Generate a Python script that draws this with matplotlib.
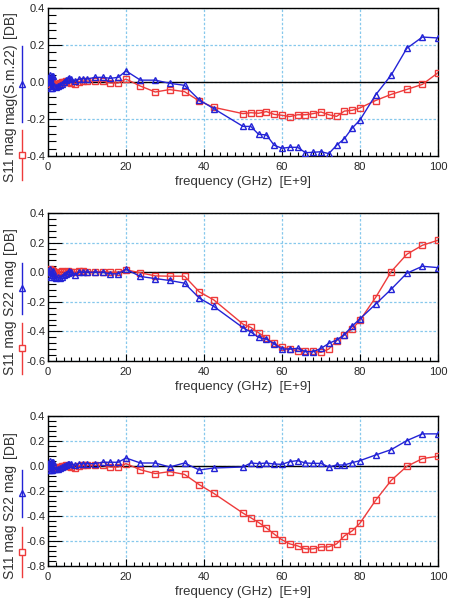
import numpy as np
import matplotlib
matplotlib.use("Agg")
import matplotlib.pyplot as plt
from matplotlib.lines import Line2D
from matplotlib.ticker import MultipleLocator, FormatStrFormatter

plt.rcParams['font.family'] = ['Liberation Sans', 'DejaVu Sans']
plt.rcParams['axes.unicode_minus'] = False

# frequency points (GHz)
freq = [0.1, 0.3, 0.5, 0.7, 0.9, 1.1, 1.3, 1.5, 2.0, 2.5, 3.0, 3.5, 4.0, 4.5, 5.0, 5.5,
        6, 7, 8, 9, 10, 12, 14, 16, 18, 20, 23.7, 27.5, 31.2, 35, 38.8, 42.5,
        50, 52, 54, 56, 58, 60, 62, 64, 66, 68, 70, 72, 74, 76, 78, 80, 84, 88, 92, 96, 100]

# panel 1: mag(S.m.22) and S11 mag
p1_blue = [0.02, -0.02, 0.04, -0.03, 0.03, -0.03, 0.035, -0.02, -0.025, -0.02, -0.015, -0.01, 0.0, 0.01, 0.015, 0.02,
           0.015, 0.005, 0.016, 0.018, 0.016, 0.025, 0.025, 0.02, 0.025, 0.06, 0.01, 0.01, -0.007, -0.018, -0.097, -0.144,
           -0.24, -0.24, -0.283, -0.286, -0.342, -0.358, -0.353, -0.353, -0.382, -0.38, -0.377, -0.387, -0.342, -0.306,
           -0.249, -0.205, -0.07, 0.038, 0.182, 0.243, 0.238]
p1_red = [0.0, 0.01, -0.01, 0.005, -0.005, 0.0, -0.01, -0.012, -0.015, -0.01, -0.005, 0.0, 0.0, 0.005, 0.0, 0.0,
          -0.003, -0.009, 0.0, 0.005, 0.005, 0.005, 0.005, -0.005, -0.005, 0.016, -0.022, -0.054, -0.041, -0.052, -0.103, -0.137,
          -0.171, -0.166, -0.169, -0.16, -0.175, -0.18, -0.187, -0.177, -0.177, -0.171, -0.162, -0.177, -0.186, -0.157,
          -0.153, -0.14, -0.1, -0.067, -0.04, -0.013, 0.05]

# panel 2: S22 mag and S11 mag
p2_blue = [0.01, -0.02, 0.02, -0.03, 0.0, -0.02, 0.01, -0.03, -0.04, -0.035, -0.04, -0.03, -0.02, -0.01, -0.005, 0.005,
           0.0, -0.018, 0.0, 0.0, 0.0, 0.0, 0.0, -0.011, -0.011, 0.02, -0.029, -0.043, -0.056, -0.074, -0.175, -0.231,
           -0.375, -0.404, -0.44, -0.452, -0.485, -0.519, -0.519, -0.515, -0.537, -0.537, -0.515, -0.481, -0.458, -0.422,
           -0.364, -0.315, -0.216, -0.115, -0.007, 0.04, 0.031]
p2_red = [0.0, 0.01, 0.02, 0.0, 0.015, 0.005, 0.01, 0.0, -0.005, -0.01, 0.0, 0.005, 0.0, 0.0, 0.005, 0.0,
          0.0, 0.0, 0.005, 0.009, 0.004, 0.004, 0.004, 0.0, 0.0, 0.016, -0.004, -0.025, -0.027, -0.027, -0.133, -0.187,
          -0.351, -0.373, -0.409, -0.447, -0.481, -0.508, -0.517, -0.533, -0.535, -0.533, -0.542, -0.519, -0.463, -0.425,
          -0.384, -0.324, -0.171, 0.004, 0.121, 0.182, 0.216]

# panel 3: S22 mag and S11 mag
p3_blue = [0.02, -0.03, 0.04, -0.03, 0.03, -0.03, 0.035, -0.02, -0.025, -0.02, -0.015, -0.01, 0.0, 0.01, 0.015, 0.02,
           0.015, 0.005, 0.02, 0.018, 0.019, 0.019, 0.03, 0.03, 0.03, 0.064, 0.024, 0.024, -0.008, 0.024, -0.032, -0.016,
           -0.008, 0.024, 0.019, 0.024, 0.016, 0.013, 0.035, 0.043, 0.024, 0.021, 0.021, -0.008, 0.008, 0.008,
           0.027, 0.043, 0.088, 0.131, 0.203, 0.257, 0.257]
p3_red = [0.0, 0.01, -0.01, 0.005, -0.005, 0.0, -0.01, -0.012, -0.015, -0.01, -0.005, 0.0, 0.0, 0.005, 0.0, 0.0,
          -0.005, -0.019, 0.0, 0.005, 0.005, 0.005, 0.005, -0.008, -0.008, 0.019, -0.03, -0.061, -0.045, -0.067, -0.15, -0.219,
          -0.377, -0.414, -0.452, -0.495, -0.545, -0.591, -0.623, -0.639, -0.663, -0.663, -0.647, -0.647, -0.623, -0.559,
          -0.519, -0.457, -0.275, -0.115, -0.003, 0.059, 0.078]

panels = [
    (p1_blue, p1_red, (-0.4, 0.4), 'mag(S.m.22)'),
    (p2_blue, p2_red, (-0.6, 0.4), 'S22 mag'),
    (p3_blue, p3_red, (-0.8, 0.4), 'S22 mag'),
]

W, H = 451, 599
BLUE = '#2323d6'
RED = '#ee3b3b'
GRID = '#86c8ec'
TXT = '#333333'

fig = plt.figure(figsize=(W / 100, H / 100), dpi=100)

# axes boxes in pixels: (top, bottom)
boxes = [(8, 156), (213, 361), (416, 566)]
# y-label pieces in pixels: [DB] centre, blue text/line span, red text/line span
lab_pos = [
    (25, (44, 123), (129, 180)),
    (241, (261, 315), (322, 374)),
    (445, (468, 518), (526, 577)),
]


def fx(x):
    return x / W


def fy(y):
    return 1 - y / H


for i, (blue, red, ylim, blue_name) in enumerate(panels):
    top, bot = boxes[i]
    ax = fig.add_axes([fx(48), fy(bot), (438 - 48) / W, (bot - top) / H])
    ax.set_axisbelow(True)
    ax.grid(True, color=GRID, linestyle=(0, (2, 1.5)), linewidth=0.9)
    ax.axhline(0, color='black', linewidth=1.0, zorder=1)
    ax.plot(freq, red, color=RED, linewidth=1.0, marker='s', markersize=4.5,
            markerfacecolor='none', markeredgecolor=RED, markeredgewidth=1.0, zorder=3)
    ax.plot(freq, blue, color=BLUE, linewidth=1.0, marker='^', markersize=5,
            markerfacecolor='none', markeredgecolor=BLUE, markeredgewidth=1.0, zorder=4)
    ax.set_xlim(0, 100)
    ax.set_ylim(*ylim)
    ax.xaxis.set_major_locator(MultipleLocator(20))
    ax.xaxis.set_minor_locator(MultipleLocator(2))
    ax.yaxis.set_major_locator(MultipleLocator(0.2))
    ax.yaxis.set_minor_locator(MultipleLocator(0.04))
    ax.yaxis.set_major_formatter(FormatStrFormatter('%.1f'))
    ax.tick_params(which='both', direction='in', top=False, right=False,
                   labelsize=8, labelcolor='#262626', color='black', width=0.8)
    ax.tick_params(axis='y', which='major', length=10, pad=2)
    ax.tick_params(axis='y', which='minor', length=5.5)
    ax.tick_params(axis='x', which='major', length=5, pad=4)
    ax.tick_params(axis='x', which='minor', length=3)
    for s in ax.spines.values():
        s.set_linewidth(1.0)
    ax.set_xlabel('frequency (GHz)  [E+9]', fontsize=9.5, color=TXT, labelpad=3)

    # stacked y-axis label with series keys
    db_c, bspan, rspan = lab_pos[i]
    fig.text(fx(10), fy(db_c), '[DB]', rotation=90, ha='center', va='center',
             fontsize=10, color=TXT)
    fig.text(fx(10), fy(sum(bspan) / 2), blue_name, rotation=90, ha='center', va='center',
             fontsize=10, color=TXT)
    fig.text(fx(10), fy(sum(rspan) / 2), 'S11 mag', rotation=90, ha='center', va='center',
             fontsize=10, color=TXT)
    fig.add_artist(Line2D([fx(22), fx(22)], [fy(bspan[0] + 2), fy(bspan[1] - 1)],
                          transform=fig.transFigure, color=BLUE, linewidth=1.0))
    fig.add_artist(Line2D([fx(22)], [fy(sum(bspan) / 2)], transform=fig.transFigure,
                          marker='^', markersize=5, markerfacecolor='none',
                          markeredgecolor=BLUE, linestyle='none'))
    fig.add_artist(Line2D([fx(22), fx(22)], [fy(rspan[0] + 1), fy(rspan[1])],
                          transform=fig.transFigure, color=RED, linewidth=1.0))
    fig.add_artist(Line2D([fx(22)], [fy(sum(rspan) / 2)], transform=fig.transFigure,
                          marker='s', markersize=4.5, markerfacecolor='white',
                          markeredgecolor=RED, linestyle='none'))

fig.savefig('out.png', dpi=100)
